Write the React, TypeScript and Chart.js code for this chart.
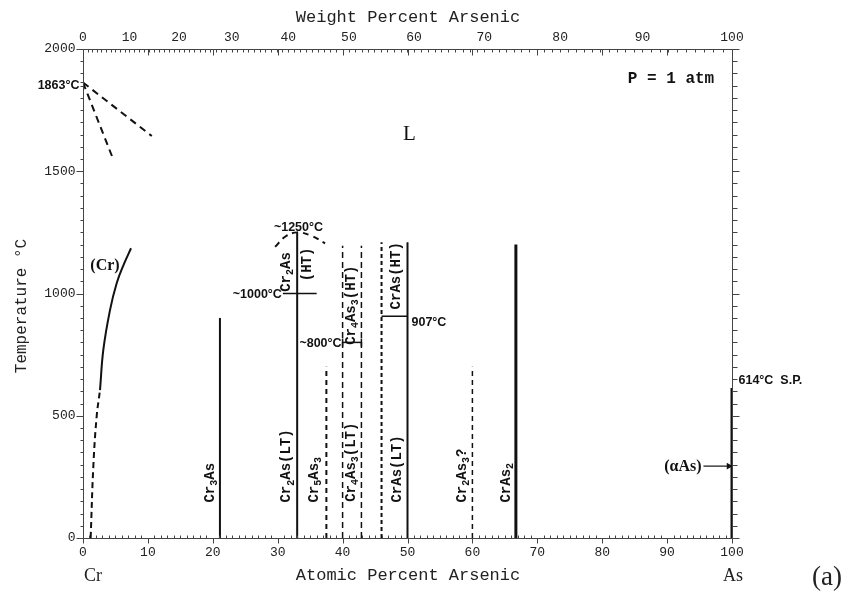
import React, { useEffect, useRef } from "react";
import { Chart, registerables } from "chart.js";

Chart.register(...registerables);

// Cr–As phase diagram, temperature (°C) against atomic percent arsenic.
type Pt = { x: number; y: number };

const ATOMIC_TICKS = [0, 10, 20, 30, 40, 50, 60, 70, 80, 90, 100];
const WEIGHT_TICKS = [0, 10, 20, 30, 40, 50, 60, 70, 80, 90, 100];
const TEMP_TICKS = [0, 500, 1000, 1500, 2000];

// liquidus estimates from the Cr melting point
const liquidusUpper: Pt[] = [{ x: 0, y: 1863 }, { x: 10.6, y: 1644 }];
const liquidusLower: Pt[] = [{ x: 0, y: 1863 }, { x: 4.7, y: 1546 }];

// (Cr) solvus
const crSolvusSolid: Pt[] = [
  { x: 2.62, y: 605 }, { x: 3.13, y: 769 }, { x: 4.16, y: 932 },
  { x: 5.19, y: 1042 }, { x: 6.3, y: 1120 }, { x: 7.4, y: 1185 },
];
const crSolvusDashed: Pt[] = [
  { x: 1.18, y: 0 }, { x: 1.59, y: 292 }, { x: 2.1, y: 496 }, { x: 2.62, y: 605 },
];

// compound lines
const cr3As: Pt[] = [{ x: 21.1, y: 0 }, { x: 21.1, y: 900 }];
const cr2As: Pt[] = [{ x: 33.0, y: 0 }, { x: 33.0, y: 1250 }];
const cr2AsTransition: Pt[] = [{ x: 30.8, y: 1000 }, { x: 36.0, y: 1000 }];
const cr2AsMelting: Pt[] = [
  { x: 29.6, y: 1191 }, { x: 31.2, y: 1233 }, { x: 33.0, y: 1250 },
  { x: 35.2, y: 1236 }, { x: 37.3, y: 1205 },
];
const cr5As3: Pt[] = [{ x: 37.5, y: 0 }, { x: 37.5, y: 700 }];
const cr4As3Left: Pt[] = [{ x: 40.0, y: 0 }, { x: 40.0, y: 1195 }];
const cr4As3Right: Pt[] = [{ x: 42.9, y: 0 }, { x: 42.9, y: 1195 }];
const cr4As3Transition: Pt[] = [{ x: 40.0, y: 800 }, { x: 42.9, y: 800 }];
const crAsLeft: Pt[] = [{ x: 46.0, y: 0 }, { x: 46.0, y: 1210 }];
const crAs: Pt[] = [{ x: 50.0, y: 0 }, { x: 50.0, y: 1210 }];
const crAsTransition: Pt[] = [{ x: 46.0, y: 907 }, { x: 50.0, y: 907 }];
const cr2As3: Pt[] = [{ x: 60.0, y: 0 }, { x: 60.0, y: 700 }];
const crAs2: Pt[] = [{ x: 66.7, y: 0 }, { x: 66.7, y: 1200 }];
const asLine: Pt[] = [{ x: 100, y: 0 }, { x: 100, y: 614 }];
const alphaAsArrow: Pt[] = [{ x: 95.6, y: 294 }, { x: 99.5, y: 294 }];

const M_CR = 51.996;
const M_AS = 74.922;
const wtToAt = (w: number) => (100 * (w / M_AS)) / (w / M_AS + (100 - w) / M_CR);

const INK = "#111";
const AXIS = "#444";
const MONO = '"Liberation Mono", "DejaVu Sans Mono", monospace';
const SERIF = '"Liberation Serif", "DejaVu Serif", serif';
const SANS = '"Liberation Sans", Arial, sans-serif';

function seg(data: Pt[], width = 2, dash: number[] = [], tension = 0) {
  return {
    data,
    showLine: true,
    borderColor: INK,
    borderWidth: width,
    borderDash: dash,
    tension,
    pointRadius: 0,
    pointHoverRadius: 0,
    fill: false,
  } as any;
}

type Piece = [string, boolean];

// rotated label reading bottom-to-top, subscripts shifted to the right
function drawVertical(ctx: CanvasRenderingContext2D, cx: number, bottom: number, pieces: Piece[], size: number) {
  ctx.save();
  ctx.translate(cx, bottom);
  ctx.rotate(-Math.PI / 2);
  ctx.textBaseline = "middle";
  ctx.textAlign = "left";
  ctx.fillStyle = INK;
  let pos = 0;
  for (const [t, sub] of pieces) {
    ctx.font = sub ? `bold ${Math.round(size * 0.72)}px ${MONO}` : `bold ${size}px ${MONO}`;
    ctx.fillText(t, pos, sub ? size * 0.3 : 0);
    pos += ctx.measureText(t).width;
  }
  ctx.restore();
}

const diagramPlugin = {
  id: "phaseDiagramDecor",
  afterDatasetsDraw(chart: any) {
    const { ctx, chartArea: a, scales } = chart;
    const x = scales.x;
    const y = scales.y;
    const px = (v: number) => x.getPixelForValue(v);
    const py = (v: number) => y.getPixelForValue(v);
    const L = Math.round(a.left) + 0.5;
    const R = Math.round(a.right) + 0.5;
    const T = Math.round(a.top) + 0.5;
    const B = Math.round(a.bottom) + 0.5;

    ctx.save();
    ctx.strokeStyle = AXIS;
    ctx.lineWidth = 1;
    ctx.beginPath();
    ctx.rect(L, T, R - L, B - T);
    // bottom: atomic percent
    for (let i = 0; i <= 100; i++) {
      const X = Math.round(px(i)) + 0.5;
      ctx.moveTo(X, B);
      ctx.lineTo(X, i % 10 === 0 ? B + 5 : B - 3);
      // top: matching atomic tens
      if (i % 10 === 0) {
        ctx.moveTo(X, T);
        ctx.lineTo(X, T + 6);
      }
    }
    // top: weight percent
    for (let w = 0; w <= 100; w++) {
      const X = Math.round(px(wtToAt(w))) + 0.5;
      ctx.moveTo(X, T);
      ctx.lineTo(X, T + 3);
    }
    // temperature ticks on both sides
    for (let t = 0; t <= 2000; t += 50) {
      const Y = Math.round(py(t)) + 0.5;
      const len = t % 500 === 0 ? 7 : 3;
      ctx.moveTo(L, Y);
      ctx.lineTo(L - len, Y);
      ctx.moveTo(R, Y);
      ctx.lineTo(R + (t % 500 === 0 ? 7 : 5), Y);
    }
    // melting point marker
    const Ym = Math.round(py(1863)) + 0.5;
    ctx.moveTo(L, Ym);
    ctx.lineTo(L - 3, Ym);
    ctx.stroke();

    // tick labels
    ctx.fillStyle = "#222";
    ctx.font = `13px ${MONO}`;
    ctx.textAlign = "center";
    ctx.textBaseline = "middle";
    for (const v of ATOMIC_TICKS) ctx.fillText(String(v), px(v), B + 14);
    for (const w of WEIGHT_TICKS) ctx.fillText(String(w), px(wtToAt(w)), T - 12);
    ctx.textAlign = "right";
    for (const t of TEMP_TICKS) ctx.fillText(String(t), L - 8, py(t));

    // axis titles
    ctx.font = `17px ${MONO}`;
    ctx.textAlign = "center";
    ctx.fillText("Weight Percent Arsenic", (L + R) / 2, 17);
    ctx.fillText("Atomic Percent Arsenic", (L + R) / 2, 575);
    ctx.save();
    ctx.translate(22, (T + B) / 2 + 12);
    ctx.rotate(-Math.PI / 2);
    ctx.font = `16px ${MONO}`;
    ctx.fillText("Temperature °C", 0, 0);
    ctx.restore();

    ctx.font = `18px ${SERIF}`;
    ctx.fillText("Cr", px(0) + 10, 576);
    ctx.fillText("As", px(100) + 1, 576);
    ctx.font = `27px ${SERIF}`;
    ctx.fillText("(a)", 827, 578);

    // region and condition labels
    ctx.fillStyle = INK;
    ctx.font = `21px ${SERIF}`;
    ctx.fillText("L", px(50.3), py(1650));
    ctx.font = `bold 16px ${MONO}`;
    ctx.fillText("P = 1 atm", 671, 79);
    ctx.font = `bold 16px ${SERIF}`;
    ctx.fillText("(Cr)", 105, 266);
    ctx.textAlign = "right";
    ctx.fillText("(αAs)", px(95.3), py(294) + 1);

    // temperature annotations
    ctx.font = `bold 12.5px ${SANS}`;
    ctx.textAlign = "right";
    ctx.fillText("1863°C", L - 4, py(1863) + 3);
    ctx.fillText("~1000°C", px(30.8) - 1, py(1000) + 1);
    ctx.fillText("~800°C", px(40.0) - 1, py(800) + 1);
    ctx.textAlign = "left";
    ctx.fillText("907°C", px(50.0) + 4, py(907) + 6);
    ctx.fillText("614°C  S.P.", R + 6, py(646));
    ctx.textAlign = "center";
    ctx.fillText("~1250°C", px(33.2), py(1250) - 5);

    // end caps on the ~800°C transition
    ctx.strokeStyle = INK;
    ctx.lineWidth = 1.5;
    ctx.beginPath();
    for (const v of [40.0, 42.9]) {
      ctx.moveTo(px(v), py(800) - 4);
      ctx.lineTo(px(v), py(800) + 4);
    }
    ctx.stroke();

    // phase labels
    const S = 14;
    drawVertical(ctx, px(19.6), py(145), [["Cr", false], ["3", true], ["As", false]], S);
    drawVertical(ctx, px(31.4), py(145), [["Cr", false], ["2", true], ["As(LT)", false]], S);
    drawVertical(ctx, px(35.6), py(145), [["Cr", false], ["5", true], ["As", false], ["3", true]], S);
    drawVertical(ctx, px(41.4), py(148), [["Cr", false], ["4", true], ["As", false], ["3", true], ["(LT)", false]], S);
    drawVertical(ctx, px(48.4), py(145), [["CrAs(LT)", false]], S);
    drawVertical(ctx, px(58.5), py(145), [["Cr", false], ["2", true], ["As", false], ["3", true], ["?", false]], S);
    drawVertical(ctx, px(65.2), py(145), [["CrAs", false], ["2", true]], S);
    drawVertical(ctx, px(31.3), py(1007), [["Cr", false], ["2", true], ["As", false]], S);
    drawVertical(ctx, px(34.6), py(1050), [["(HT)", false]], S);
    drawVertical(ctx, px(41.4), py(790), [["Cr", false], ["4", true], ["As", false], ["3", true], ["(HT)", false]], S);
    drawVertical(ctx, px(48.3), py(935), [["CrAs(HT)", false]], S);

    ctx.restore();
  },
};

export default function App() {
  const ref = useRef<HTMLCanvasElement | null>(null);

  useEffect(() => {
    if (!ref.current) return;
    const arrow = seg(alphaAsArrow, 1.2);
    arrow.pointRadius = [0, 4];
    arrow.pointStyle = "triangle";
    arrow.rotation = 90;
    arrow.pointBackgroundColor = INK;
    arrow.pointBorderColor = INK;
    arrow.pointBorderWidth = 0;

    const chart = new Chart(ref.current, {
      type: "scatter",
      data: {
        datasets: [
          seg(liquidusUpper, 2, [7, 5]),
          seg(liquidusLower, 2, [7, 5]),
          seg(crSolvusSolid, 2, [], 0.4),
          seg(crSolvusDashed, 2, [6, 4], 0.4),
          seg(cr3As, 2),
          seg(cr2As, 2),
          seg(cr2AsTransition, 1.5),
          seg(cr2AsMelting, 2, [6, 5], 0.4),
          seg(cr5As3, 2, [5, 4]),
          seg(cr4As3Left, 1.5, [6, 4]),
          seg(cr4As3Right, 1.5, [6, 4]),
          seg(cr4As3Transition, 1.5),
          seg(crAsLeft, 2, [4, 3]),
          seg(crAs, 2),
          seg(crAsTransition, 1.5),
          seg(cr2As3, 1.5, [5, 4]),
          seg(crAs2, 3),
          seg(asLine, 3),
          arrow,
        ],
      },
      options: {
        animation: false,
        responsive: false,
        maintainAspectRatio: false,
        layout: { padding: { left: 83, right: 120, top: 49, bottom: 67 } },
        plugins: { legend: { display: false }, tooltip: { enabled: false } },
        events: [],
        scales: {
          x: { type: "linear", min: 0, max: 100, display: false },
          y: { type: "linear", min: 0, max: 2000, display: false },
        },
      },
      plugins: [diagramPlugin],
    });
    return () => chart.destroy();
  }, []);

  return (
    <div style={{ position: "absolute", left: 0, top: 0, width: 852, height: 605, background: "#fff" }}>
      <canvas ref={ref} width={852} height={605} style={{ display: "block" }} />
    </div>
  );
}
